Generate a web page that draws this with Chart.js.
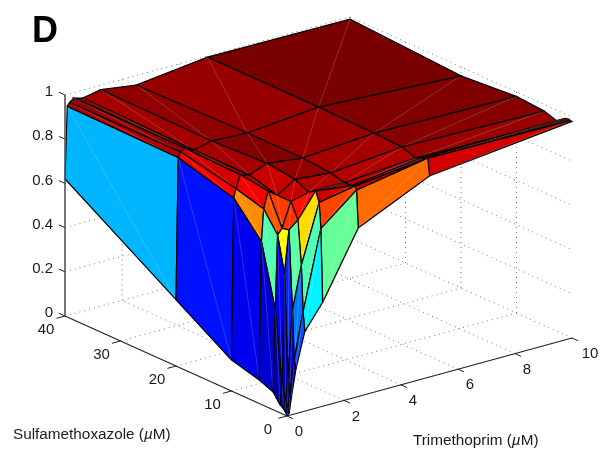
<!DOCTYPE html>
<html><head><meta charset="utf-8">
<style>html,body{margin:0;padding:0;background:#fff}canvas{display:block}</style>
<script src="https://cdn.jsdelivr.net/npm/chart.js@4/dist/chart.umd.js"></script>
</head><body><canvas id="c" width="613" height="456"></canvas>
<script>
// Doses of the grid (uM)
const trimethoprim = [0, 0.078, 0.156, 0.3125, 0.625, 1.25, 2.5, 5, 10];
const sulfamethoxazole = [0, 0.3125, 0.625, 1.25, 2.5, 5, 10, 20, 40];
// Surface height, one row per sulfamethoxazole dose, one value per trimethoprim dose
const zS0    = [0, .01, .08, .2, .36, .47, .762, .91, .98];
const zS03   = [.015, .03, .08, .24, .446, .80, .93, .987, .98];
const zS06   = [.025, .06, .16, .46, .653, .915, .945, .98, .983];
const zS125  = [.036, .12, .625, .817, .85, .96, .94, .977, .98];
const zS25   = [.08, .45, .785, .81, .92, .94, .94, .963, .95];
const zS5    = [.106, .73, .875, .95, .92, .97, .955, .984, .97];
const zS10   = [.14, .87, .91, .967, .955, .986, .966, .99, .98];
const zS20   = [.3, .94, .963, .975, .955, .974, .966, .995, .96];
const zS40   = [.62, .945, .96, .975, .964, .98, .957, .995, .99];
const surface = [zS0, zS03, zS06, zS125, zS25, zS5, zS10, zS20, zS40];
// Tick labels
const tmpTicks = [0, 2, 4, 6, 8, 10];
const smxTicks = [0, 10, 20, 30, 40];
const zTicks = [0, .2, .4, .6, .8, 1];

// Oblique view of the data cube onto the chart's two linear scales
const view = {tu: 28.5, tv: 7.8, su: -5.55, sv: 2.5, zv: 221};
const project = (t, s, z) => ({x: view.tu * t + view.su * s, y: view.tv * t + view.sv * s + view.zv * z});

function jet(v) {
  const c = x => Math.round(255 * Math.max(0, Math.min(1, x)));
  const r = Math.min(4 * v - 1.5, -4 * v + 4.5);
  const g = Math.min(4 * v - 0.5, -4 * v + 3.5);
  const b = Math.min(4 * v + 0.5, -4 * v + 2.5);
  return `rgb(${c(r)},${c(g)},${c(b)})`;
}
const line = (pts, color, width, dash) => ({
  type: 'scatter', data: pts, showLine: true, fill: false, pointRadius: 0, pointHoverRadius: 0,
  borderColor: color, borderWidth: width, borderDash: dash || [1000, 0], clip: false, tension: 0
});
const datasets = [];
// Axes on top
const axisColor = '#222';
datasets.push(line([project(0, 0, 0), project(10, 0, 0)], axisColor, 1.2));
datasets.push(line([project(0, 0, 0), project(0, 40, 0)], axisColor, 1.2));
datasets.push(line([project(0, 40, 0), project(0, 40, 1)], '#555', 1.6));
tmpTicks.forEach(t => datasets.push(line([project(t, 0, 0), project(t, -1.1, 0)], axisColor, 1)));
smxTicks.forEach(s => datasets.push(line([project(0, s, 0), project(-0.3, s, 0)], axisColor, 1)));
zTicks.forEach(z => datasets.push(line([project(0, 40, z), project(0, 41.1, z)], axisColor, 1)));

// Surface, front cells first since Chart.js paints the first dataset last
for (let i = 0; i < trimethoprim.length - 1; i++) {
  for (let j = 0; j < sulfamethoxazole.length - 1; j++) {
    const P = (a, b) => project(trimethoprim[a], sulfamethoxazole[b], surface[b][a]);
    const a = P(i, j), b = P(i + 1, j), c = P(i + 1, j + 1), d = P(i, j + 1);
    datasets.push(line([a, c], 'rgba(255,255,255,0.3)', 0.6));
    const cell = line([a, b, c, d, a], '#000', 1.2);
    cell.fill = 'shape';
    cell.backgroundColor = jet(surface[j][i] / 0.99);
    datasets.push(cell);
  }
}
// Dotted grid behind everything
const gridColor = '#777', gridDash = [1, 4];
const G = pts => datasets.push(line(pts, gridColor, 1, gridDash));
tmpTicks.slice(1).forEach(t => {
  G([project(t, 0, 0), project(t, 40, 0)]);
  G([project(t, 40, 0), project(t, 40, 1)]);
});
smxTicks.slice(1).forEach(s => {
  G([project(0, s, 0), project(10, s, 0)]);
  G([project(10, s, 0), project(10, s, 1)]);
});
zTicks.slice(1).forEach(z => {
  G([project(0, 40, z), project(10, 40, z)]);
  G([project(10, 40, z), project(10, 0, z)]);
});

const textPlugin = {
  id: 'plotText',
  afterDraw(chart) {
    const {ctx, scales: {x, y}} = chart;
    const px = p => [x.getPixelForValue(p.x), y.getPixelForValue(p.y)];
    ctx.save();
    ctx.fillStyle = '#1a1a1a';
    ctx.textBaseline = 'middle';
    ctx.font = '15px "Liberation Sans", Arial, sans-serif';
    ctx.textAlign = 'center';
    tmpTicks.forEach(t => {
      const [a, b] = px(project(t, 0, 0));
      ctx.fillText(String(t), a + 12 + (t === 10 ? 6 : 0), b + 16);
    });
    smxTicks.forEach(s => {
      const [a, b] = px(project(0, s, 0));
      ctx.fillText(String(s), a - 19, b + 14);
    });
    ctx.textAlign = 'right';
    zTicks.forEach(z => {
      const [a, b] = px(project(0, 40, z));
      ctx.fillText(String(z), a - 12, b - 3);
    });
    const mixed = (parts, px0, py0) => {
      let cur = px0;
      ctx.textAlign = 'left';
      parts.forEach(([txt, it]) => {
        ctx.font = (it ? 'italic ' : '') + '15.3px "Liberation Sans", Arial, sans-serif';
        ctx.fillText(txt, cur, py0);
        cur += ctx.measureText(txt).width;
      });
    };
    mixed([['Sulfamethoxazole (', false], ['\u00b5', true], ['M)', false]], 13, 435);
    mixed([['Trimethoprim (', false], ['\u00b5', true], ['M)', false]], 413, 441);
    ctx.fillStyle = '#000';
    ctx.font = 'bold 36px "Liberation Sans", Arial, sans-serif';
    ctx.textAlign = 'left';
    ctx.fillText('D', 32, 32);
    ctx.restore();
  }
};

new Chart(document.getElementById('c'), {
  type: 'scatter',
  data: {datasets},
  options: {
    responsive: false, animation: false, events: [],
    layout: {padding: 0},
    plugins: {legend: {display: false}, tooltip: {enabled: false}, title: {display: false}},
    scales: {
      x: {type: 'linear', display: false, min: -287, max: 326},
      y: {type: 'linear', display: false, min: -40, max: 416}
    }
  },
  plugins: [textPlugin]
});
</script></body></html>
